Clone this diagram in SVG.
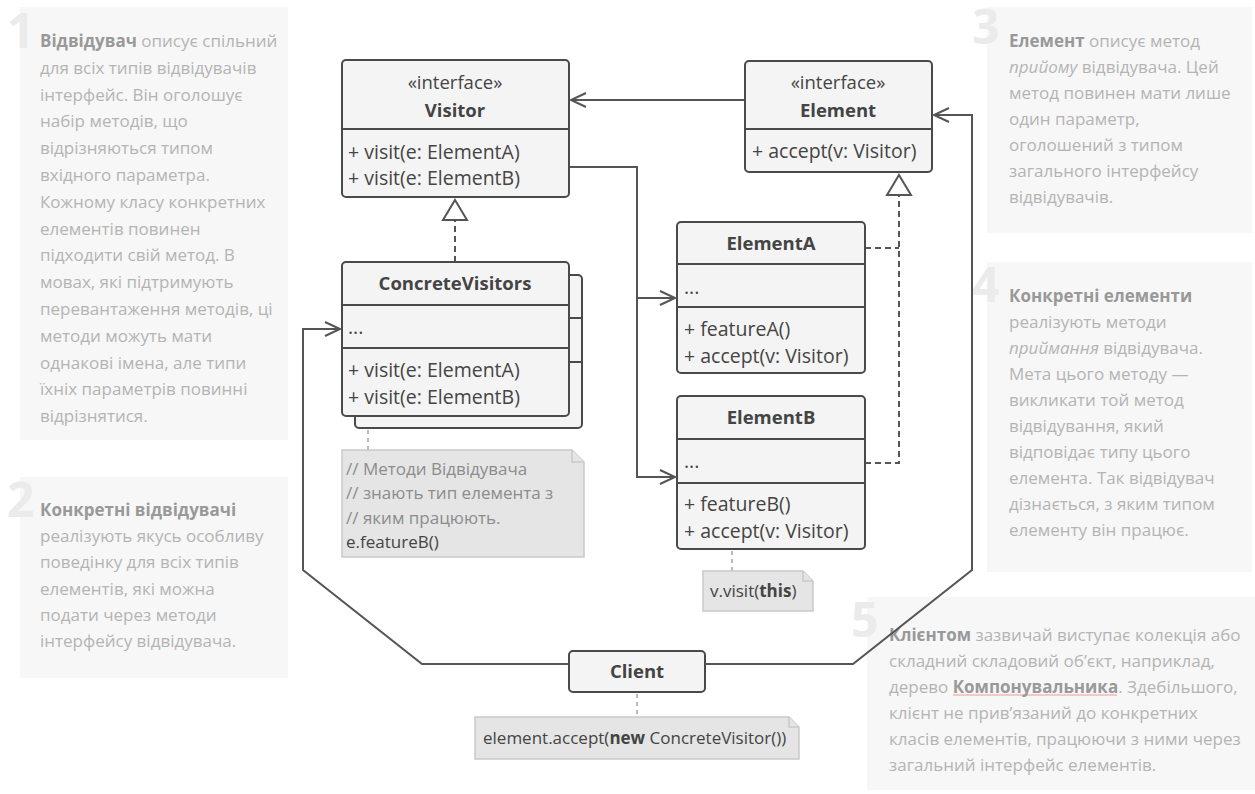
<svg xmlns="http://www.w3.org/2000/svg" width="1255" height="794" viewBox="0 0 1255 794">
  <style>
    .panel { fill: #f7f7f7; }
    .num { font-family: "Open Sans", "Noto Sans", sans-serif; font-size: 48px; font-weight: bold; fill: #ebebeb; }
    .ptxt { font-family: "Open Sans", "Noto Sans", sans-serif; font-size: 17px; fill: #b4b4b4; }
    .ptxt .b { font-weight: bold; fill: #999; }
    .ptxt .i { font-style: italic; }
    .box { fill: #f4f4f4; stroke: #4a4a4a; stroke-width: 2; }
    .div { stroke: #4a4a4a; stroke-width: 2; }
    .t { font-family: "Open Sans", "Noto Sans", sans-serif; font-size: 19.5px; fill: #444; }
    .st { font-family: "Open Sans", "Noto Sans", sans-serif; font-size: 18.5px; fill: #444; }
    .tb { font-family: "Open Sans", "Noto Sans", sans-serif; font-size: 18.5px; font-weight: bold; fill: #444; }
    .c { text-anchor: middle; }
    .line { fill: none; stroke: #555; stroke-width: 2; }
    .dash { fill: none; stroke: #555; stroke-width: 2; stroke-dasharray: 6 4; }
    .ndash { fill: none; stroke: #bbb; stroke-width: 2; stroke-dasharray: 4 4; }
    .note { fill: #e5e5e5; stroke: #c9c9c9; stroke-width: 1.5; }
    .ntxt { font-family: "Open Sans", "Noto Sans", sans-serif; font-size: 17px; fill: #444; }
    .ncom { fill: #8c8c8c; }
  </style>
  <defs>
    <marker id="open" markerUnits="userSpaceOnUse" markerWidth="20" markerHeight="20" refX="16" refY="8" orient="auto">
      <path d="M1,1 L16,8 L1,15" fill="none" stroke="#555" stroke-width="2"/>
    </marker>
  </defs>

  <!-- explanation panels -->
  <g id="panel1">
    <rect class="panel" x="20" y="7" width="268" height="433"/>
    <text class="num" x="7" y="48">1</text>
    <text class="ptxt" x="40" y="47">
      <tspan class="b">Відвідувач</tspan> описує спільний
      <tspan x="40" dy="26.8">для всіх типів відвідувачів</tspan>
      <tspan x="40" dy="26.8">інтерфейс. Він оголошує</tspan>
      <tspan x="40" dy="26.8">набір методів, що</tspan>
      <tspan x="40" dy="26.8">відрізняються типом</tspan>
      <tspan x="40" dy="26.8">вхідного параметра.</tspan>
      <tspan x="40" dy="26.8">Кожному класу конкретних</tspan>
      <tspan x="40" dy="26.8">елементів повинен</tspan>
      <tspan x="40" dy="26.8">підходити свій метод. В</tspan>
      <tspan x="40" dy="26.8">мовах, які підтримують</tspan>
      <tspan x="40" dy="26.8">перевантаження методів, ці</tspan>
      <tspan x="40" dy="26.8">методи можуть мати</tspan>
      <tspan x="40" dy="26.8">однакові імена, але типи</tspan>
      <tspan x="40" dy="26.8">їхніх параметрів повинні</tspan>
      <tspan x="40" dy="26.8">відрізнятися.</tspan>
    </text>
  </g>
  <g id="panel2">
    <rect class="panel" x="20" y="477" width="268" height="201"/>
    <text class="num" x="7" y="517">2</text>
    <text class="ptxt" x="40" y="516">
      <tspan class="b">Конкретні відвідувачі</tspan>
      <tspan x="40" dy="26.2">реалізують якусь особливу</tspan>
      <tspan x="40" dy="26.2">поведінку для всіх типів</tspan>
      <tspan x="40" dy="26.2">елементів, які можна</tspan>
      <tspan x="40" dy="26.2">подати через методи</tspan>
      <tspan x="40" dy="26.2">інтерфейсу відвідувача.</tspan>
    </text>
  </g>
  <g id="panel3">
    <rect class="panel" x="987" y="7" width="265" height="226"/>
    <text class="num" x="972" y="44">3</text>
    <text class="ptxt" x="1009" y="47">
      <tspan class="b">Елемент</tspan> описує метод
      <tspan x="1009" dy="26"><tspan class="i">прийому</tspan> відвідувача. Цей</tspan>
      <tspan x="1009" dy="26">метод повинен мати лише</tspan>
      <tspan x="1009" dy="26">один параметр,</tspan>
      <tspan x="1009" dy="26">оголошений з типом</tspan>
      <tspan x="1009" dy="26">загального інтерфейсу</tspan>
      <tspan x="1009" dy="26">відвідувачів.</tspan>
    </text>
  </g>
  <g id="panel4">
    <rect class="panel" x="987" y="262" width="265" height="310"/>
    <text class="num" x="972" y="302">4</text>
    <text class="ptxt" x="1009" y="302">
      <tspan class="b">Конкретні елементи</tspan>
      <tspan x="1009" dy="26">реалізують методи</tspan>
      <tspan x="1009" dy="26"><tspan class="i">приймання</tspan> відвідувача.</tspan>
      <tspan x="1009" dy="26">Мета цього методу —</tspan>
      <tspan x="1009" dy="26">викликати той метод</tspan>
      <tspan x="1009" dy="26">відвідування, який</tspan>
      <tspan x="1009" dy="26">відповідає типу цього</tspan>
      <tspan x="1009" dy="26">елемента. Так відвідувач</tspan>
      <tspan x="1009" dy="26">дізнається, з яким типом</tspan>
      <tspan x="1009" dy="26">елементу він працює.</tspan>
    </text>
  </g>
  <g id="panel5">
    <rect class="panel" x="867" y="597" width="388" height="193"/>
    <text class="num" x="851" y="637">5</text>
    <line x1="953" y1="695" x2="1117" y2="695" stroke="#f2b8b8" stroke-width="1.5"/>
    <text class="ptxt" x="889" y="641">
      <tspan class="b">Клієнтом</tspan> зазвичай виступає колекція або
      <tspan x="889" dy="26">складний складовий об’єкт, наприклад,</tspan>
      <tspan x="889" dy="26">дерево <tspan class="b">Компонувальника</tspan>. Здебільшого,</tspan>
      <tspan x="889" dy="26">клієнт не прив’язаний до конкретних</tspan>
      <tspan x="889" dy="26">класів елементів, працюючи з ними через</tspan>
      <tspan x="889" dy="26">загальний інтерфейс елементів.</tspan>
    </text>
  </g>

  <!-- connectors -->
  <g id="connectors">
    <path class="line" d="M745,100 H571" marker-end="url(#open)"/>
    <path class="line" d="M569,167 H637 V298 H675" marker-end="url(#open)"/>
    <path class="line" d="M637,298 V477 H675" marker-end="url(#open)"/>
    <path class="dash" d="M455,262 V220"/>
    <path d="M455,200 L467,220 H443 Z" fill="#fff" stroke="#555" stroke-width="2"/>
    <path class="dash" d="M865,248 H899 M865,463 H899 V195"/>
    <path d="M899,175 L911,195 H887 Z" fill="#fff" stroke="#555" stroke-width="2"/>
    <path class="line" d="M569,664 H422 L303,570 V329 H340" marker-end="url(#open)"/>
    <path class="line" d="M705,664 H853 L972,570 V115 H934" marker-end="url(#open)"/>
    <path class="ndash" d="M368,430 V450"/>
    <path class="ndash" d="M732,551 V571"/>
    <path class="ndash" d="M637,694 V717"/>
  </g>

  <!-- classes -->
  <g id="visitor">
    <rect class="box" x="342" y="60" width="227" height="137" rx="4"/>
    <line class="div" x1="342" y1="129" x2="569" y2="129"/>
    <text class="st c" x="455" y="89">«interface»</text>
    <text class="tb c" x="455" y="117">Visitor</text>
    <text class="t" x="348" y="159">+ visit(e: ElementA)</text>
    <text class="t" x="348" y="185">+ visit(e: ElementB)</text>
  </g>
  <g id="element">
    <rect class="box" x="745" y="61" width="187" height="111" rx="4"/>
    <line class="div" x1="745" y1="129" x2="932" y2="129"/>
    <text class="st c" x="838" y="89">«interface»</text>
    <text class="tb c" x="838" y="117">Element</text>
    <text class="t" x="752" y="158">+ accept(v: Visitor)</text>
  </g>
  <g id="concrete-visitors">
    <rect class="box" x="355" y="275" width="227" height="153" rx="4"/>
    <line class="div" x1="569" y1="318" x2="582" y2="318"/>
    <line class="div" x1="569" y1="362" x2="582" y2="362"/>
    <rect class="box" x="342" y="262" width="227" height="154" rx="4"/>
    <line class="div" x1="342" y1="305" x2="569" y2="305"/>
    <line class="div" x1="342" y1="348" x2="569" y2="348"/>
    <text class="tb c" x="455" y="290">ConcreteVisitors</text>
    <text class="t" x="348" y="334">...</text>
    <text class="t" x="348" y="377">+ visit(e: ElementA)</text>
    <text class="t" x="348" y="404">+ visit(e: ElementB)</text>
  </g>
  <g id="element-a">
    <rect class="box" x="677" y="222" width="188" height="151" rx="4"/>
    <line class="div" x1="677" y1="264" x2="865" y2="264"/>
    <line class="div" x1="677" y1="307" x2="865" y2="307"/>
    <text class="tb c" x="771" y="250">ElementA</text>
    <text class="t" x="684" y="294">...</text>
    <text class="t" x="684" y="336">+ featureA()</text>
    <text class="t" x="684" y="363">+ accept(v: Visitor)</text>
  </g>
  <g id="element-b">
    <rect class="box" x="677" y="396" width="188" height="153" rx="4"/>
    <line class="div" x1="677" y1="439" x2="865" y2="439"/>
    <line class="div" x1="677" y1="483" x2="865" y2="483"/>
    <text class="tb c" x="771" y="424">ElementB</text>
    <text class="t" x="684" y="468">...</text>
    <text class="t" x="684" y="511">+ featureB()</text>
    <text class="t" x="684" y="538">+ accept(v: Visitor)</text>
  </g>
  <g id="client">
    <rect class="box" x="569" y="651" width="136" height="41" rx="4"/>
    <text class="tb c" x="637" y="678">Client</text>
  </g>

  <!-- notes -->
  <g id="note-visitor">
    <path class="note" d="M342,450 H572 L584,462 V557 H342 Z"/>
    <path class="note" d="M572,450 V462 H584" fill="none"/>
    <text class="ntxt" x="346" y="475">
      <tspan class="ncom">// Методи Відвідувача</tspan>
      <tspan class="ncom" x="346" dy="24.3">// знають тип елемента з</tspan>
      <tspan class="ncom" x="346" dy="24.3">// яким працюють.</tspan>
      <tspan x="346" dy="24.3">e.featureB()</tspan>
    </text>
  </g>
  <g id="note-element">
    <path class="note" d="M703,571 H803 L813,581 V611 H703 Z"/>
    <path class="note" d="M803,571 V581 H813" fill="none"/>
    <text class="ntxt" x="710" y="597">v.visit(<tspan font-weight="bold">this</tspan>)</text>
  </g>
  <g id="note-client">
    <path class="note" d="M475,717 H789 L799,727 V759 H475 Z"/>
    <path class="note" d="M789,717 V727 H799" fill="none"/>
    <text class="ntxt" x="483" y="744">element.accept(<tspan font-weight="bold">new</tspan> ConcreteVisitor())</text>
  </g>
</svg>
